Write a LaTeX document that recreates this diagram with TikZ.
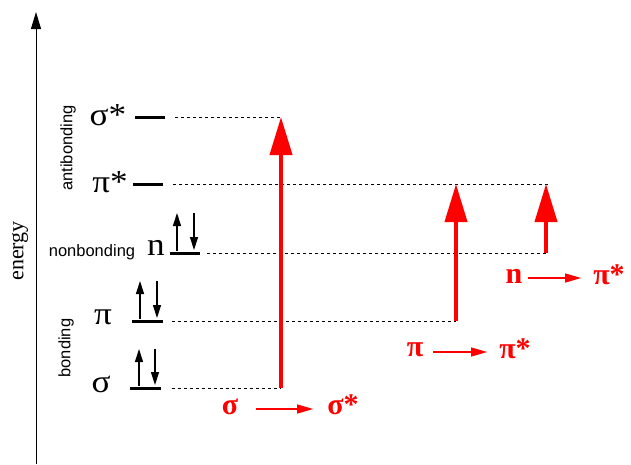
\documentclass[tikz,border=0pt]{standalone}
\usepackage{fontspec}
\setmainfont{Liberation Serif}
\setsansfont{Liberation Sans}
\usetikzlibrary{arrows.meta}
\begin{document}
\begin{tikzpicture}[x=1pt,y=-1pt,
  level/.style={line width=3pt},
  guide/.style={dash pattern=on 3pt off 3pt, line width=0.8pt},
  trans/.style={red, line width=4pt, -{Triangle[length=38pt,width=22pt]}},
  spin/.style={line width=1.3pt, -{Triangle[length=13pt,width=8pt]}},
  orb/.style={font=\fontsize{32}{32}\selectfont, inner sep=0pt, xscale=1.1},
  cat/.style={font=\sffamily\fontsize{16.5}{16.5}\selectfont, inner sep=0pt},
  rlab/.style={red, font=\bfseries\fontsize{30}{30}\selectfont, inner sep=0pt},
  rarr/.style={red, line width=1.2pt, -{Triangle[length=16pt,width=9pt]}}]
\useasboundingbox (0,0) rectangle (631,464);
% energy axis
\coordinate (ab) at (36,464);
\coordinate (at) at (36,12);
\draw[line width=1pt, -{Triangle[length=17pt,width=10pt]}] (ab) -- (at);
\node[rotate=90, font=\fontsize{22}{22}\selectfont, inner sep=0pt] (energy) at (20,251) {energy};
% category labels
\node[cat, rotate=90] (anti) at (68,148) {antibonding};
\node[cat, rotate=90] (bond) at (66,348) {bonding};
\node[cat] (nonb) at (92,252) {nonbonding};
% levels: sigma*
\coordinate (ssL) at (135,117); \coordinate (ssR) at (165,117);
\coordinate (ssD) at (175,117); \coordinate (ssE) at (281,117);
% pi*
\coordinate (psL) at (133,184); \coordinate (psR) at (163,184);
\coordinate (psD) at (173,184); \coordinate (psE) at (548,184);
\coordinate (psA) at (456,184); \coordinate (psB) at (546,184);
% n
\coordinate (nL) at (170,253); \coordinate (nR) at (200,253);
\coordinate (nD) at (207,253); \coordinate (nE) at (546,253);
% pi
\coordinate (pL) at (132,321); \coordinate (pR) at (163,321);
\coordinate (pD) at (172,321); \coordinate (pE) at (456,321);
% sigma
\coordinate (sL) at (130,388); \coordinate (sR) at (161,388);
\coordinate (sD) at (172,388); \coordinate (sE) at (281,388);
\foreach \a/\b in {ssL/ssR, psL/psR, nL/nR, pL/pR, sL/sR} \draw[level] (\a) -- (\b);
\foreach \a/\b in {ssD/ssE, psD/psE, nD/nE, pD/pE, sD/sE} \draw[guide] (\a) -- (\b);
% orbital labels
\node[orb] (lss) at (108,115) {σ*};
\node[orb] (lps) at (110,182) {π*};
\node[orb] (ln) at (156,248) {n};
\node[orb] (lp) at (103,317) {π};
\node[orb] (ls) at (101,384) {σ};
% electron spins
\coordinate (nu1) at (177,251); \coordinate (nu2) at (177,213);
\coordinate (nd1) at (194,213); \coordinate (nd2) at (194,250);
\coordinate (pu1) at (140,319); \coordinate (pu2) at (140,281);
\coordinate (pd1) at (157,281); \coordinate (pd2) at (157,318);
\coordinate (su1) at (139,386); \coordinate (su2) at (139,349);
\coordinate (sd1) at (155,349); \coordinate (sd2) at (155,385);
\foreach \a/\b in {nu1/nu2, nd1/nd2, pu1/pu2, pd1/pd2, su1/su2, sd1/sd2} \draw[spin] (\a) -- (\b);
% transitions
\draw[trans] (sE) -- (ssE);
\draw[trans] (pE) -- (psA);
\draw[trans] (nE) -- (psB);
% transition labels
\node[rlab] (t1a) at (230,407) {σ};
\node[rlab] (t1b) at (343,405) {σ*};
\draw[rarr] ([xshift=18pt,yshift=-2pt]t1a.east) -- ([xshift=-14pt,yshift=-4pt]t1b.west);
\node[rlab] (t2a) at (415,350) {π};
\node[rlab] (t2b) at (515,349) {π*};
\draw[rarr] ([xshift=10pt,yshift=-2pt]t2a.east) -- ([xshift=-12pt,yshift=-3pt]t2b.west);
\node[rlab] (t3a) at (514,276) {n};
\node[rlab] (t3b) at (609,275) {π*};
\draw[rarr] ([xshift=5pt,yshift=-2pt]t3a.east) -- ([xshift=-12pt,yshift=-3pt]t3b.west);
\end{tikzpicture}
\end{document}
